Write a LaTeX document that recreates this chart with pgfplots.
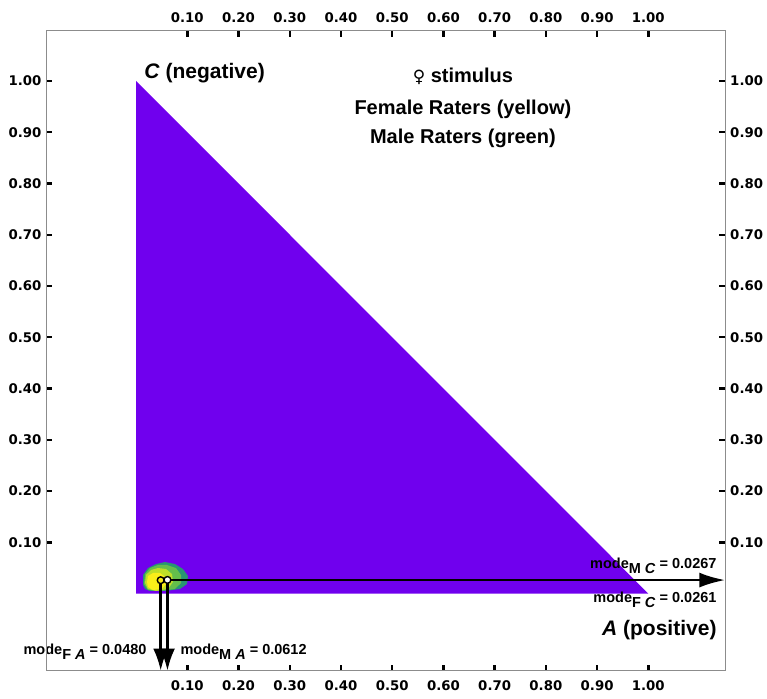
\documentclass[border=0pt]{standalone}
\usepackage{pgfplots}
\pgfplotsset{compat=1.18}
\usepackage{fontspec}
\setmainfont{Liberation Sans}
\newfontfamily\tickfont{DejaVu Sans}
\usetikzlibrary{arrows.meta}
\definecolor{tri}{RGB}{112,0,238}
\definecolor{lay1}{RGB}{40,150,115}
\definecolor{lay2}{RGB}{100,190,75}
\definecolor{lay3}{RGB}{190,222,40}
\definecolor{lay4}{RGB}{250,238,25}
\newcommand{\bigtxt}[2][20]{{\fontsize{#1}{24}\selectfont\bfseries #2}}
\newcommand{\modetxt}[3]{{\fontsize{14.5}{17}\selectfont\bfseries mode\raisebox{-5pt}{#1 \textit{#2}} = #3}}
\pgfplotsset{
  frame/.style={
    width=679.3pt, height=640pt, scale only axis,
    xmin=-0.1759, xmax=1.1503, ymin=-0.1504, ymax=1.0981,
    xtick={0.1,0.2,0.3,0.4,0.5,0.6,0.7,0.8,0.9,1.0},
    ytick={0.1,0.2,0.3,0.4,0.5,0.6,0.7,0.8,0.9,1.0},
    xticklabel={\pgfmathprintnumber[fixed,fixed zerofill,precision=2,assume math mode=true]{\tick}},
    yticklabel={\pgfmathprintnumber[fixed,fixed zerofill,precision=2,assume math mode=true]{\tick}},
    ticklabel style={font=\tickfont\bfseries\fontsize{13.3}{13}\selectfont},
    axis line style={black!45, line width=0.8pt},
    tick align=inside,
  }
}
\begin{document}
\begin{tikzpicture}
\begin{axis}[frame, name=main, clip=false,
  xticklabel pos=lower, yticklabel pos=left,
  xtick pos=both, ytick pos=both,
  major tick length=6pt,
  tick style={black, line width=2.4pt},
  xticklabel style={yshift=-6pt},
  yticklabel style={xshift=-1pt},
]
% simplex
\addplot[fill=tri, draw=none] coordinates {(0,0) (1,0) (0,1)} -- cycle;
% density blob (contour layers)
\addplot[fill=lay1, draw=none] coordinates {(0.0135,0.0168) (0.0135,0.0363) (0.0232,0.0499) (0.0389,0.0577) (0.0564,0.0616) (0.0759,0.0577) (0.0916,0.0480) (0.1013,0.0343) (0.0994,0.0187) (0.0857,0.0090) (0.0564,0.0051) (0.0271,0.0051) (0.0174,0.0090)} -- cycle;
\addplot[fill=lay2, draw=none] coordinates {(0.0154,0.0187) (0.0174,0.0382) (0.0271,0.0499) (0.0428,0.0558) (0.0603,0.0558) (0.0779,0.0499) (0.0877,0.0363) (0.0877,0.0207) (0.0759,0.0090) (0.0467,0.0051) (0.0232,0.0070)} -- cycle;
\addplot[fill=lay3, draw=none] coordinates {(0.0174,0.0207) (0.0193,0.0363) (0.0291,0.0460) (0.0428,0.0499) (0.0584,0.0480) (0.0701,0.0382) (0.0720,0.0226) (0.0623,0.0090) (0.0389,0.0051) (0.0232,0.0090)} -- cycle;
\addplot[fill=lay4, draw=none] coordinates {(0.0213,0.0226) (0.0232,0.0343) (0.0330,0.0402) (0.0467,0.0402) (0.0564,0.0324) (0.0584,0.0187) (0.0506,0.0090) (0.0330,0.0070) (0.0232,0.0129)} -- cycle;
% mode arrows
\addplot[black, line width=2.6pt, -{Latex[length=22pt,width=15pt]}] coordinates {(0.0480,0.0261) (0.0480,-0.1504)};
\addplot[black, line width=2.6pt, -{Latex[length=22pt,width=15pt]}] coordinates {(0.0612,0.0267) (0.0612,-0.1504)};
\addplot[black, line width=2.8pt, -{Latex[length=26pt,width=15pt]}] coordinates {(0.0480,0.0264) (1.1503,0.0264)};
\addplot[only marks, mark=*, mark size=3.4pt, mark options={fill=lay4, draw=black, line width=1.4pt}] coordinates {(0.0480,0.0261)};
\addplot[only marks, mark=*, mark size=3.4pt, mark options={fill=white, draw=black, line width=1.4pt}] coordinates {(0.0612,0.0267)};
% labels
\node[anchor=base west, inner sep=0] at (axis cs:0.0157,1.0053) {\bigtxt[21]{\textit{C} (negative)}};
\node[anchor=base east, inner sep=0] at (axis cs:1.1335,-0.082) {\bigtxt[21]{\textit{A} (positive)}};
\node[anchor=base, inner sep=0] at (axis cs:0.638,0.9975) {\bigtxt{{\tickfont\fontsize{17}{20}\selectfont ♀} stimulus}};
\node[anchor=base, inner sep=0] at (axis cs:0.638,0.935) {\bigtxt{Female Raters (yellow)}};
\node[anchor=base, inner sep=0] at (axis cs:0.638,0.8785) {\bigtxt{Male Raters (green)}};
\node[anchor=base east, inner sep=0] at (axis cs:1.1335,0.048) {\modetxt{M}{C}{0.0267}};
\node[anchor=base east, inner sep=0] at (axis cs:1.1335,-0.017) {\modetxt{F}{C}{0.0261}};
\node[anchor=base east, inner sep=0] at (axis cs:0.0207,-0.1184) {\modetxt{F}{A}{0.0480}};
\node[anchor=base west, inner sep=0] at (axis cs:0.0863,-0.1184) {\modetxt{M}{A}{0.0612}};
\end{axis}
\begin{axis}[frame,
  xticklabel pos=upper, yticklabel pos=right,
  major tick length=0pt,
  xticklabel style={yshift=4pt},
  yticklabel style={xshift=1.4pt},
]
\end{axis}
\pgfresetboundingbox
\path[use as bounding box] ([xshift=-46pt,yshift=-27.3pt]main.south west) rectangle ([xshift=41.7pt,yshift=30.7pt]main.north east);
\end{tikzpicture}
\end{document}
